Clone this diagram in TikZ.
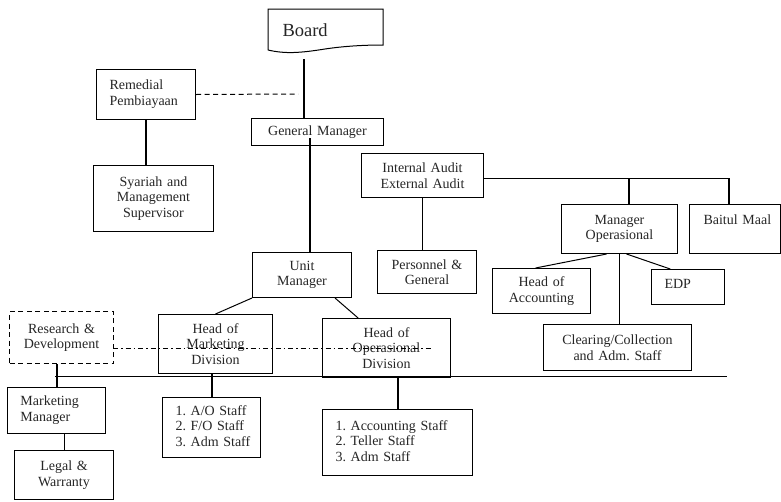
\documentclass[tikz,border=0pt]{standalone}
\usepackage{fontspec}
\setmainfont{Liberation Serif}
\usetikzlibrary{calc}
\frenchspacing
\newcommand{\fs}{\fontsize{14pt}{15.5pt}\selectfont}
\newcommand{\lefttext}[1]{\hspace*{13pt}\begin{tabular}{@{}l@{}}#1\end{tabular}}
\begin{document}
\begin{tikzpicture}[x=1pt,y=-1pt,
  box/.style={draw=black, line width=1pt, fill=white, inner sep=0pt, anchor=north west, align=center, font=\fs, text=black!85},
  lbox/.style={box, align=left},
  thickline/.style={line width=2pt},
  thinline/.style={line width=1pt},
  dashline/.style={line width=1pt, dash pattern=on 5pt off 3.5pt},
  dashdotline/.style={line width=1pt, dash pattern=on 5pt off 3pt on 1.5pt off 3pt}]
\useasboundingbox (0,0) rectangle (781,501);

% Board (document shape)
\node[box, draw=none, fill=none, align=left, text width=115pt, minimum height=41pt, font=\fontsize{18.5pt}{20pt}\selectfont] (board) at (268,9) {\hspace*{14pt}Board};
\draw[line width=1pt] (268,50) -- (268,9) -- (383,9) -- (383,45)
  .. controls (365,45) and (345,46) .. (325,49)
  .. controls (300,53) and (285,54) .. (268,50);

\node[lbox, text width=99pt, minimum height=50pt] (rem) at (96,69) {\lefttext{Remedial\\Pembiayaan}};
\node[box, text width=132pt, minimum height=27pt] (gm) at (251,118) {\raisebox{-1.5pt}{General Manager}};
\node[box, text width=120pt, minimum height=66pt] (syr) at (93,165) {Syariah and\\Management\\Supervisor};
\node[box, text width=122pt, minimum height=44pt] (ia) at (361,153) {Internal Audit\\External Audit};
\node[box, text width=116pt, minimum height=49pt] (mo) at (561,204) {Manager\\Operasional};
\node[lbox, text width=91pt, minimum height=49pt] (bm) at (689,204) {\hspace*{14pt}\raisebox{9pt}[9pt][0pt]{Baitul Maal}};
\node[box, text width=99pt, minimum height=43pt] (pg) at (377,250) {Personnel \&\\General};
\node[box, text width=98pt, minimum height=45pt] (hoa) at (492,268) {Head of\\Accounting};
\node[lbox, text width=73pt, minimum height=35pt] (edp) at (651,269) {\hspace*{13pt}\raisebox{3pt}[9pt][0pt]{EDP}};
\node[box, text width=148pt, minimum height=46pt] (clr) at (543,324) {Clearing/Collection\\and Adm. Staff};
\node[box, text width=99pt, minimum height=45pt] (um) at (252,252) {Unit\\Manager};
\node[box, text width=114pt, minimum height=59pt] (hom) at (158,314) {Head of\\Marketing\\Division};
\node[box, text width=128pt, minimum height=59pt] (hoo) at (322,318) {Head of\\Operasional\\Division};
\node[box, dashline, text width=104pt, minimum height=52pt] (rd) at (9,311) {Research \&\\Development};
\node[lbox, text width=98pt, minimum height=46pt] (mm) at (7,387) {\lefttext{Marketing\\Manager}};
\node[box, text width=99pt, minimum height=49pt] (legal) at (14,450) {Legal \&\\Warranty};
\node[lbox, text width=98pt, minimum height=60pt] (ao) at (162,397) {\lefttext{1. A/O Staff\\2. F/O Staff\\3. Adm Staff}};
\node[lbox, text width=150pt, minimum height=66pt] (acc) at (322,409) {\lefttext{1. Accounting Staff\\2. Teller Staff\\3. Adm Staff}};

% free ends
\coordinate (bstart) at (304,59);
\coordinate (dashend) at (298,94);
\coordinate (gmdown) at (310,138);
\coordinate (j1) at (629,178);
\coordinate (j2) at (729,178);
\coordinate (hl1) at (55,376);
\coordinate (hl2) at (727,376);
\coordinate (dd1) at (113,348);
\coordinate (dd2) at (433,348);

% connectors
\draw[thickline] (bstart) -- (bstart |- gm.north);
\draw[dashline] (rem.east) -- (dashend);
\draw[thickline] (rem.south) -- (rem.south |- syr.north);
\draw[thickline] (gmdown) -- (gmdown |- um.north);
\draw[thinline] (j2 -| ia.east) -- (j2);
\draw[thickline] (j1) -- (j1 |- mo.north);
\draw[thickline] (j2) -- (j2 |- bm.north);
\draw[thinline] (ia.south) -- (ia.south |- pg.north);
\draw[thinline] ($(mo.south west)!0.39!(mo.south east)$) -- ($(hoa.north west)!0.44!(hoa.north east)$);
\draw[thinline] ($(mo.south west)!0.56!(mo.south east)$) -- ($(edp.north west)!0.26!(edp.north east)$);
\draw[thinline] (mo.south) -- (mo.south |- clr.north);
\draw[thinline] (um.south west) -- (hom.north);
\draw[thinline] ($(um.south west)!0.83!(um.south east)$) -- ($(hoo.north west)!0.28!(hoo.north east)$);
\draw[thinline] (hl1) -- (hl2);
\draw[thickline] (mm.north |- rd.south) -- (mm.north);
\draw[thinline] (legal.north |- mm.south) -- (legal.north);
\draw[thickline] (ao.north |- hom.south) -- (ao.north);
\draw[thickline] (acc.north |- hoo.south) -- (acc.north);
\draw[dashdotline] (dd1) -- (dd2);
\end{tikzpicture}
\end{document}
